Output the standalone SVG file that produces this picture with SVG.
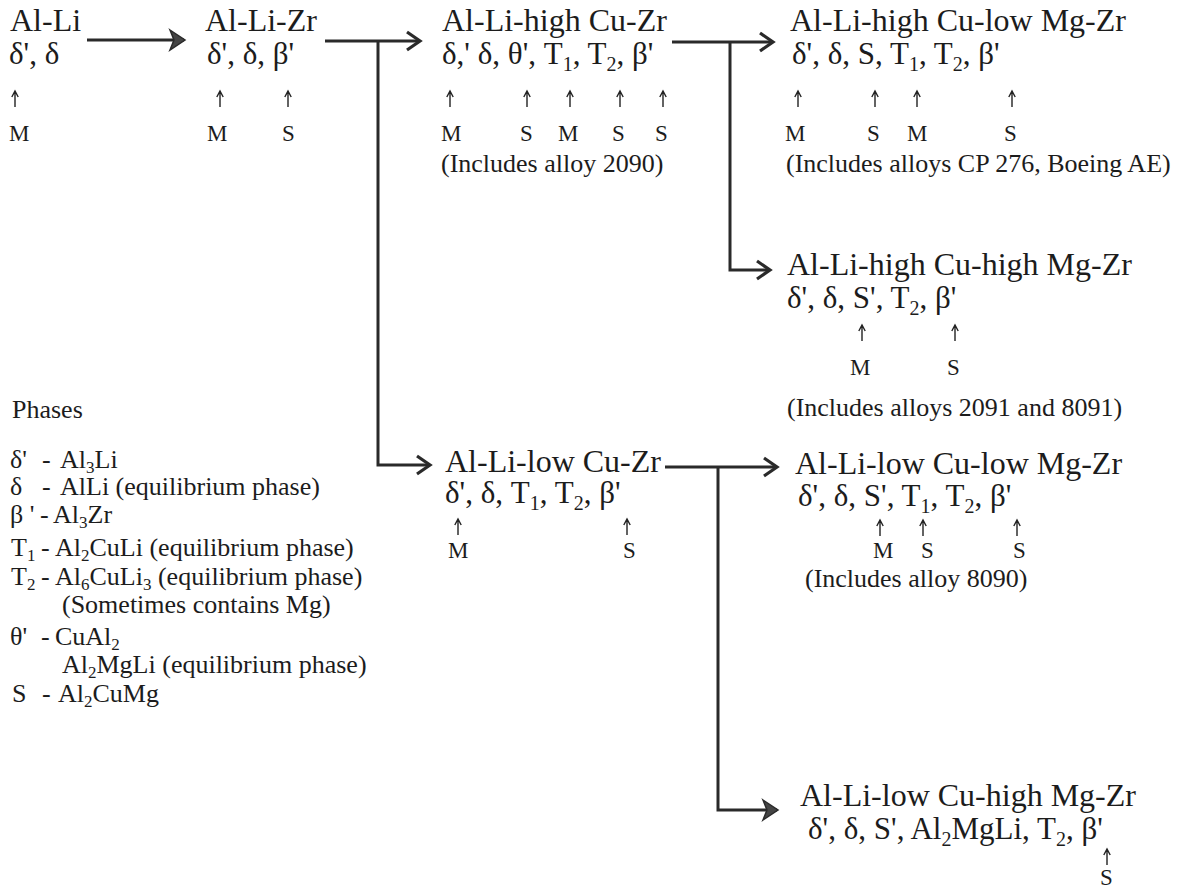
<svg xmlns="http://www.w3.org/2000/svg" width="1183" height="888" viewBox="0 0 1183 888">
<defs>
<style>
.t{font-family:"Liberation Serif","Times New Roman",serif;fill:#1c1c1c}
.h{font-size:32px}
.p{font-size:31px}
.s{font-size:20px}
.ls{font-size:17px}
.m{font-size:23px}
.n{font-size:26px}
.l{font-size:26px}
.c{fill:none;stroke:#2a2a2a;stroke-width:3}
.u{fill:none;stroke:#222;stroke-width:1.4}
</style>
<path id="up" d="M0,8 V-8 M-3.2,-2 L0,-8 L3.2,-2"/>
<marker id="chev" markerUnits="userSpaceOnUse" markerWidth="18" markerHeight="22" refX="15" refY="10" orient="auto" overflow="visible">
<path d="M2,1 L15,10 L2,19" fill="none" stroke="#2a2a2a" stroke-width="3.2"/>
</marker>
<marker id="barb" markerUnits="userSpaceOnUse" markerWidth="18" markerHeight="22" refX="15" refY="10" orient="auto" overflow="visible">
<path d="M1,0 L16,10 L1,20 L5,10 z" fill="#444" stroke="#2a2a2a" stroke-width="1.5"/>
</marker>
</defs>
<rect width="1183" height="888" fill="#fff"/>

<g id="connectors">
<path class="c" d="M87,40 H184" marker-end="url(#barb)"/>
<path class="c" d="M325,41 H420" marker-end="url(#chev)"/>
<path class="c" d="M378,41 V465 H430" marker-end="url(#chev)"/>
<path class="c" d="M672,42 H773" marker-end="url(#chev)"/>
<path class="c" d="M730,42 V270 H770" marker-end="url(#chev)"/>
<path class="c" d="M665,467 H777" marker-end="url(#chev)"/>
<path class="c" d="M718,467 V810 H777" marker-end="url(#barb)"/>
</g>

<g id="node-al-li">
<text class="t h" x="10" y="31">Al-Li</text>
<text class="t p" x="9" y="64">δ', δ</text>
<use href="#up" class="u" x="15" y="99"/>
<text class="t m" x="9" y="141">M</text>
</g>

<g id="node-al-li-zr">
<text class="t h" x="205" y="31">Al-Li-Zr</text>
<text class="t p" x="207" y="64">δ', δ, β'</text>
<use href="#up" class="u" x="220" y="99"/>
<use href="#up" class="u" x="288" y="99"/>
<text class="t m" x="207" y="141">M</text>
<text class="t m" x="282" y="141">S</text>
</g>

<g id="node-high-cu">
<text class="t h" x="442" y="31">Al-Li-high Cu-Zr</text>
<text class="t p" x="442" y="64">δ,' δ, θ', T<tspan class="s" dy="7">1</tspan><tspan dy="-7">, T</tspan><tspan class="s" dy="7">2</tspan><tspan dy="-7">, β'</tspan></text>
<use href="#up" class="u" x="450" y="99"/>
<use href="#up" class="u" x="527" y="99"/>
<use href="#up" class="u" x="570" y="99"/>
<use href="#up" class="u" x="620" y="99"/>
<use href="#up" class="u" x="663" y="99"/>
<text class="t m" x="441" y="141">M</text>
<text class="t m" x="520" y="141">S</text>
<text class="t m" x="558" y="141">M</text>
<text class="t m" x="612" y="141">S</text>
<text class="t m" x="655" y="141">S</text>
<text class="t n" x="441" y="172">(Includes alloy 2090)</text>
</g>

<g id="node-high-cu-low-mg">
<text class="t h" x="790" y="31">Al-Li-high Cu-low Mg-Zr</text>
<text class="t p" x="792" y="64">δ', δ, S, T<tspan class="s" dy="7">1</tspan><tspan dy="-7">, T</tspan><tspan class="s" dy="7">2</tspan><tspan dy="-7">, β'</tspan></text>
<use href="#up" class="u" x="798" y="99"/>
<use href="#up" class="u" x="875" y="99"/>
<use href="#up" class="u" x="917" y="99"/>
<use href="#up" class="u" x="1012" y="99"/>
<text class="t m" x="785" y="141">M</text>
<text class="t m" x="867" y="141">S</text>
<text class="t m" x="907" y="141">M</text>
<text class="t m" x="1004" y="141">S</text>
<text class="t n" x="786" y="172">(Includes alloys CP 276, Boeing AE)</text>
</g>

<g id="node-high-cu-high-mg">
<text class="t h" x="787" y="275">Al-Li-high Cu-high Mg-Zr</text>
<text class="t p" x="787" y="308">δ', δ, S', T<tspan class="s" dy="7">2</tspan><tspan dy="-7">, β'</tspan></text>
<use href="#up" class="u" x="862" y="333"/>
<use href="#up" class="u" x="955" y="333"/>
<text class="t m" x="850" y="375">M</text>
<text class="t m" x="947" y="375">S</text>
<text class="t n" x="787" y="416">(Includes alloys 2091 and 8091)</text>
</g>

<g id="node-low-cu">
<text class="t h" x="445" y="472">Al-Li-low Cu-Zr</text>
<text class="t p" x="445" y="503">δ', δ, T<tspan class="s" dy="7">1</tspan><tspan dy="-7">, T</tspan><tspan class="s" dy="7">2</tspan><tspan dy="-7">, β'</tspan></text>
<use href="#up" class="u" x="458" y="527"/>
<use href="#up" class="u" x="627" y="527"/>
<text class="t m" x="448" y="558">M</text>
<text class="t m" x="623" y="558">S</text>
</g>

<g id="node-low-cu-low-mg">
<text class="t h" x="795" y="474">Al-Li-low Cu-low Mg-Zr</text>
<text class="t p" x="798" y="506">δ', δ, S', T<tspan class="s" dy="7">1</tspan><tspan dy="-7">, T</tspan><tspan class="s" dy="7">2</tspan><tspan dy="-7">, β'</tspan></text>
<use href="#up" class="u" x="880" y="528"/>
<use href="#up" class="u" x="923" y="528"/>
<use href="#up" class="u" x="1017" y="528"/>
<text class="t m" x="873" y="558">M</text>
<text class="t m" x="921" y="558">S</text>
<text class="t m" x="1013" y="558">S</text>
<text class="t n" x="805" y="587">(Includes alloy 8090)</text>
</g>

<g id="node-low-cu-high-mg">
<text class="t h" x="800" y="806">Al-Li-low Cu-high Mg-Zr</text>
<text class="t p" x="808" y="839">δ', δ, S', Al<tspan class="s" dy="7">2</tspan><tspan dy="-7">MgLi, T</tspan><tspan class="s" dy="7">2</tspan><tspan dy="-7">, β'</tspan></text>
<use href="#up" class="u" x="1107" y="857"/>
<text class="t m" x="1100" y="885">S</text>
</g>

<g id="legend">
<text class="t l" x="12" y="418">Phases</text>
<text class="t l" y="468"><tspan x="10">δ'</tspan><tspan x="42">-</tspan><tspan x="60">Al</tspan><tspan class="ls" dy="5">3</tspan><tspan dy="-5">Li</tspan></text>
<text class="t l" y="495"><tspan x="10">δ</tspan><tspan x="42">-</tspan><tspan x="60">AlLi (equilibrium phase)</tspan></text>
<text class="t l" y="523"><tspan x="10">β '</tspan><tspan x="40">-</tspan><tspan x="53">Al</tspan><tspan class="ls" dy="5">3</tspan><tspan dy="-5">Zr</tspan></text>
<text class="t l" y="556"><tspan x="11">T</tspan><tspan class="ls" dy="5">1</tspan><tspan x="41" dy="-5">-</tspan><tspan x="55">Al</tspan><tspan class="ls" dy="5">2</tspan><tspan dy="-5">CuLi (equilibrium phase)</tspan></text>
<text class="t l" y="585"><tspan x="11">T</tspan><tspan class="ls" dy="5">2</tspan><tspan x="41" dy="-5">-</tspan><tspan x="55">Al</tspan><tspan class="ls" dy="5">6</tspan><tspan dy="-5">CuLi</tspan><tspan class="ls" dy="5">3</tspan><tspan dy="-5"> (equilibrium phase)</tspan></text>
<text class="t l" x="62" y="613">(Sometimes contains Mg)</text>
<text class="t l" y="645"><tspan x="10">θ'</tspan><tspan x="41">-</tspan><tspan x="55">CuAl</tspan><tspan class="ls" dy="5">2</tspan></text>
<text class="t l" y="673"><tspan x="62">Al</tspan><tspan class="ls" dy="5">2</tspan><tspan dy="-5">MgLi (equilibrium phase)</tspan></text>
<text class="t l" y="702"><tspan x="12">S</tspan><tspan x="42">-</tspan><tspan x="58">Al</tspan><tspan class="ls" dy="5">2</tspan><tspan dy="-5">CuMg</tspan></text>
</g>
</svg>
